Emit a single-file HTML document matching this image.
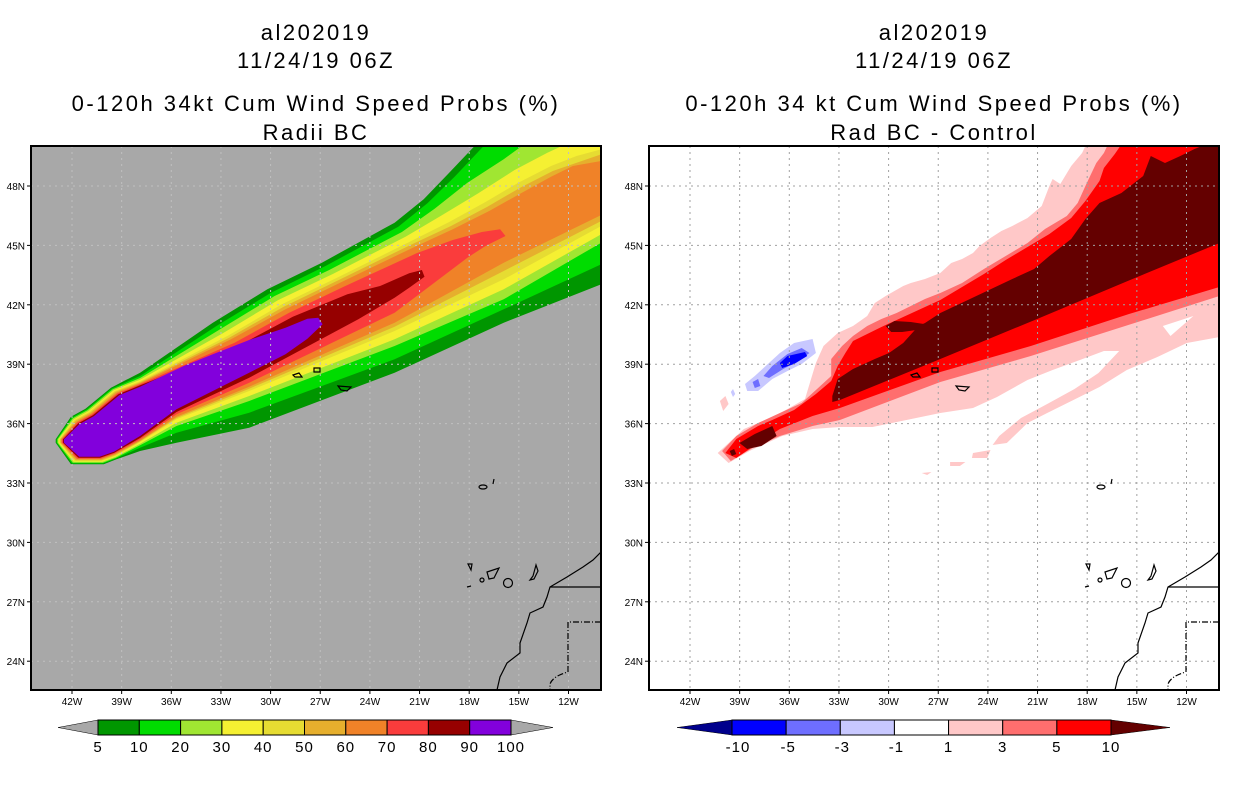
<!DOCTYPE html>
<html><head><meta charset="utf-8">
<style>
html,body{margin:0;padding:0;background:#fff;}
svg text{font-family:"Liberation Sans",sans-serif;}
</style></head>
<body>
<svg id="root" width="1236" height="800" viewBox="0 0 1236 800" xmlns="http://www.w3.org/2000/svg">
<rect width="1236" height="800" fill="#fff"/>
<g font-size="22" letter-spacing="2.5" text-anchor="middle" fill="#000">
<text x="316" y="40">al202019</text>
<text x="316" y="68">11/24/19 06Z</text>
<text x="316" y="111">0-120h 34kt Cum Wind Speed Probs (%)</text>
<text x="316" y="140">Radii BC</text>
</g>
<g font-size="22" letter-spacing="2.5" text-anchor="middle" fill="#000">
<text x="934" y="40">al202019</text>
<text x="934" y="68">11/24/19 06Z</text>
<text x="934" y="111">0-120h 34 kt Cum Wind Speed Probs (%)</text>
<text x="934" y="140">Rad BC - Control</text>
</g>
<g id="leftPanel" transform="translate(31,146)"></g>
<g id="rightPanel" transform="translate(649,146)"></g>
<g id="leftBar"></g>
<g id="rightBar"></g>
</svg>
<script>
// ---- map axes ----
const lonTicks = [42,39,36,33,30,27,24,21,18,15,12];
const latTicks = [48,45,42,39,36,33,30,27,24];
// ---- left colorbar data ----
const leftLevels = [5,10,20,30,40,50,60,70,80,90,100];
const leftColors = ["#009600","#00dc00","#a0e632","#f5f032","#e6dc32","#e6af2d","#f08228","#fa3c3c","#960000","#8200dc"];
// ---- right colorbar data ----
const rightLevels = ["-10","-5","-3","-1","1","3","5","10"];
const rightColors = ["#0000ff","#6e6eff","#c8c8ff","#ffffff","#ffc8c8","#ff6e6e","#ff0000"];

const NS="http://www.w3.org/2000/svg";
function mk(tag,attrs,parent){const e=document.createElementNS(NS,tag);for(const k in attrs)e.setAttribute(k,attrs[k]);parent.appendChild(e);return e;}
function lonX(w){return 41+(42-w)*16.55;}
function latY(l){return 40+(48-l)*19.8;}
const W=570,H=544;

const leftBands=[
{c:"#009600",top:[[300,680],[500,530],[650,430],[800,350],[1000,230],[1080,160],[1150,80],[1220,0],[1568,0]],bot:[[1568,415],[1300,530],[1000,680],[600,845],[400,890],[300,915]]},
{c:"#00dc00",top:[[300,690],[510,540],[660,440],[810,360],[1010,242],[1090,172],[1165,92],[1245,0],[1568,0]],bot:[[1568,355],[1300,490],[1000,640],[600,800],[400,860],[300,905]]},
{c:"#a0e632",top:[[300,696],[520,550],[670,450],[820,372],[1020,258],[1110,188],[1200,110],[1300,40],[1350,0],[1568,0]],bot:[[1568,290],[1300,460],[1000,600],[600,765],[400,840],[300,898]]},
{c:"#f5f032",top:[[300,701],[530,560],[680,462],[830,384],[1030,272],[1130,208],[1230,142],[1330,72],[1420,20],[1460,0],[1568,0]],bot:[[1568,265],[1300,430],[1000,580],[600,750],[400,830],[300,893]]},
{c:"#e6dc32",top:[[300,706],[540,570],[690,475],[840,396],[1040,288],[1150,228],[1250,168],[1340,110],[1430,60],[1500,30],[1568,10]],bot:[[1568,240],[1300,400],[1000,555],[600,735],[400,820],[300,888]]},
{c:"#e6af2d",top:[[300,709],[545,575],[695,482],[845,403],[1045,296],[1155,240],[1255,182],[1345,125],[1435,75],[1568,25]],bot:[[1568,225],[1300,375],[1000,542],[600,728],[400,816],[300,886]]},
{c:"#f08228",top:[[300,712],[550,580],[700,490],[850,410],[1050,305],[1160,250],[1260,195],[1350,140],[1430,92],[1490,60],[1568,45]],bot:[[1568,207],[1300,350],[1000,530],[600,722],[400,812],[300,884]]},
{c:"#fa3c3c",top:[[300,715],[560,590],[710,500],[860,422],[960,372],[1060,322],[1160,282],[1240,258],[1290,250],[1305,270]],bot:[[1250,300],[1200,335],[1000,500],[600,710],[400,805],[300,880]]},
{c:"#960000",top:[[300,718],[570,600],[720,512],[870,445],[960,420],[1040,382],[1075,372],[1082,392]],bot:[[1040,425],[1000,455],[900,520],[600,695],[400,798],[300,876]]},
{c:"#8200dc",top:[[300,722],[420,660],[500,625],[600,582],[700,545],[760,518],[790,515],[802,535]],bot:[[760,578],[700,625],[600,680],[500,735],[400,790],[300,870]]}
];
const rightShapes=[
{c:"#ffc8c8",p:[[63,307],[68,302],[77,293],[87,283],[100,277],[110,273],[127,263],[143,253],[153,217],[160,200],[173,187],[187,180],[200,170],[207,157],[217,150],[233,140],[240,137],[253,133],[267,127],[277,117],[287,113],[297,107],[303,100],[313,92],[323,85],[333,80],[347,72],[360,60],[367,40],[370,33],[377,38],[387,20],[397,7],[400,0],[523,0],[523,191],[493,197],[466,211],[438,224],[413,241],[389,254],[365,267],[347,277],[328,297],[315,299],[321,290],[341,272],[365,258],[390,243],[412,227],[431,205],[417,205],[395,214],[370,224],[347,234],[319,251],[297,262],[267,267],[236,274],[205,281],[175,281],[150,283],[122,290],[92,305],[73,317]]},
{c:"#ffffff",p:[[471,180],[499,170],[478,190]]},
{c:"#ffc8c8",p:[[297,307],[313,304],[310,312],[296,312]]},
{c:"#ffc8c8",p:[[276,316],[290,316],[285,320],[276,320]]},
{c:"#ffc8c8",p:[[250,327],[259,326],[255,329]]},
{c:"#ffc8c8",p:[[65,255],[70,250],[73,258],[68,265]]},
{c:"#ff6e6e",p:[[67,305],[80,290],[100,277],[120,267],[140,257],[157,240],[167,230],[167,213],[177,200],[187,190],[200,180],[213,173],[227,167],[240,160],[253,153],[267,147],[287,137],[307,123],[327,110],[347,97],[363,83],[383,70],[393,57],[400,40],[410,17],[417,7],[420,0],[523,0],[523,150],[350,210],[267,236],[175,274],[150,280],[120,290],[95,302],[75,315]]},
{c:"#ff0000",p:[[70,307],[80,293],[100,280],[113,274],[133,264],[153,248],[167,235],[173,220],[180,207],[187,195],[200,188],[213,181],[233,171],[253,161],[267,154],[287,141],[307,128],[327,114],[347,101],[367,88],[387,72],[400,55],[413,35],[417,22],[427,8],[432,0],[523,0],[523,141],[440,168],[350,200],[267,226],[175,262],[150,270],[120,283],[100,297],[80,312]]},
{c:"#640000",p:[[168,250],[173,233],[187,223],[207,213],[220,207],[233,197],[247,180],[253,177],[267,167],[300,150],[333,133],[353,123],[367,110],[387,93],[400,73],[413,57],[433,47],[453,30],[460,10],[473,17],[487,10],[500,3],[507,0],[523,0],[523,97],[441,134],[358,172],[267,213],[175,254],[168,256]]},
{c:"#640000",p:[[217,180],[225,175],[240,176],[252,178],[245,184],[232,186],[222,186]]},
{c:"#640000",p:[[83,297],[97,288],[113,280],[117,290],[103,300],[90,303]]},
{c:"#640000",p:[[74,305],[78,303],[80,308],[76,310]]},
{c:"#c8c8ff",p:[[88,238],[97,230],[107,220],[120,207],[133,197],[150,193],[153,207],[140,218],[127,225],[113,233],[100,245],[90,245]]},
{c:"#c8c8ff",p:[[75,246],[77,243],[79,248],[77,251]]},
{c:"#6e6eff",p:[[105,230],[113,220],[127,208],[140,202],[147,207],[137,215],[123,223],[110,232]]},
{c:"#6e6eff",p:[[95,236],[100,233],[102,240],[97,242]]},
{c:"#0000ff",p:[[120,217],[127,210],[143,206],[145,210],[133,218],[122,222]]}
];

function clip(g,id){const cp=mk("clipPath",{id:id},g);mk("rect",{x:0,y:0,width:W,height:H},cp);}

function drawLand(g){
  const land=mk("g",{fill:"none",stroke:"#000","stroke-width":1.2},g);
  
  
  mk("path",{d:"M570,406 L562,414 L552,421 L536,431 L519,441 L516,451 L512,461 L499,467 L496,477 L489,497 L489,507 L476,517 L469,531 L466,544"},land);
  mk("path",{d:"M519,441 L570,441"},land);
  mk("path",{d:"M570,476 L537,476 L537,526 Q522,530 519,538 L519,544","stroke-dasharray":"6,2,1,2"},land);
  mk("path",{d:"M437,418 L441,418 L440,424 Z M456,426 L468,422 L463,432 L458,433 Z M505,419 L502,430 L499,434 L503,433 L507,425 Z"},land);
  mk("circle",{cx:451,cy:434,r:2},land);
  mk("circle",{cx:477,cy:437,r:4.5},land);
  mk("ellipse",{cx:452,cy:341,rx:4,ry:2},land);
  mk("path",{d:"M436,441 L440,440 M463,333 L462,338"},land);
  mk("path",{d:"M262,229 L268,227 L271,231 L264,231 Z M283,222 L289,222 L289,226 L283,226 Z M307,240 L320,241 L316,245 L310,244 Z"},land);
}

function drawGrid(g,color){
  const grid=mk("g",{stroke:color,"stroke-width":1,"stroke-dasharray":"2,4"},g);
  
  
  lonTicks.forEach(w=>{mk("line",{x1:lonX(w),y1:0,x2:lonX(w),y2:H},grid);});
  latTicks.forEach(l=>{mk("line",{x1:0,y1:latY(l),x2:W,y2:latY(l)},grid);});
}

function drawAxes(g){
  const ax=mk("g",{"font-size":"10",fill:"#000"},g);
  
  
  const tk=mk("g",{stroke:"#000","stroke-width":1},g);
  
  
  latTicks.forEach(l=>{
    mk("line",{x1:-4,y1:latY(l),x2:0,y2:latY(l)},tk);
    const t=mk("text",{x:-6,y:latY(l)+4,"text-anchor":"end"},ax);t.textContent=l+"N";
    
    });
  lonTicks.forEach(w=>{
    mk("line",{x1:lonX(w),y1:H,x2:lonX(w),y2:H+4},tk);
    const t=mk("text",{x:lonX(w),y:H+15,"text-anchor":"middle"},ax);t.textContent=w+"W";
    
    });
  const fr=mk("rect",{x:0,y:0,width:W,height:H,fill:"none",stroke:"#000","stroke-width":2},g);
  
  
}

(function(){
  const g=document.getElementById("leftPanel");
  clip(g,"cl");
  const inner=mk("g",{"clip-path":"url(#cl)"},g);
  mk("rect",{x:0,y:0,width:W,height:H,fill:"#a8a8a8"},inner);
  leftBands.forEach((b,k)=>{
    const d=2.5*k;
    const pts=[[68+d,880],[110+d,812+d],[150+d,788+d],[220+d,725+d]].concat(b.top,b.bot,[[235-d*0.3,940-d],[200-d*0.5,955-d],[110+d,955-d],[68+d,890]]);
    const s=pts.map(p=>(p[0]/2.75).toFixed(1)+","+(p[1]/3).toFixed(1)).join(" ");
    const poly=mk("polygon",{points:s,fill:b.c},inner);
    
    
  });
  drawGrid(inner,"#c0c0c0");
  drawLand(inner);
  drawAxes(g);
})();

(function(){
  const g=document.getElementById("rightPanel");
  clip(g,"cr");
  const inner=mk("g",{"clip-path":"url(#cr)"},g);
  mk("rect",{x:0,y:0,width:W,height:H,fill:"#fff"},inner);
  rightShapes.forEach(s=>{
    const pts=s.p.map(p=>(p[0]*3/2.75).toFixed(1)+","+p[1]).join(" ");
    const poly=mk("polygon",{points:pts,fill:s.c},inner);
    
    
  });
  drawGrid(inner,"#a0a0a0");
  drawLand(inner);
  drawAxes(g);
})();

function bar(id,x0,x1,tipL,tipR,colors,levels,leftTri,rightTri,labelOff){
  const g=document.getElementById(id);
  const y0=720,y1=735,n=colors.length,w=(x1-x0)/n;
  const lt=mk("polygon",{points:`${x0},${y0} ${tipL},${(y0+y1)/2} ${x0},${y1}`,fill:leftTri,stroke:"#000","stroke-width":0.5},g);
  
  
  const rt=mk("polygon",{points:`${x1},${y0} ${tipR},${(y0+y1)/2} ${x1},${y1}`,fill:rightTri,stroke:"#000","stroke-width":0.5},g);
  
  
  colors.forEach((c,i)=>{
    const r=mk("rect",{x:x0+i*w,y:y0,width:w,height:y1-y0,fill:c,stroke:"#000","stroke-width":1},g);
    
    
  });
  levels.forEach((l,i)=>{
    const t=mk("text",{x:x0+i*w+(labelOff[i]||0),y:752,"text-anchor":"middle","font-size":"15","letter-spacing":"1",fill:"#000"},g);
    t.textContent=l;
    
    
  });
}
bar("leftBar",98,511,58,553,leftColors,leftLevels,"#a8a8a8","#a8a8a8",{});
bar("rightBar",732,1111,677,1170,rightColors,rightLevels,"#00008c","#640000",{0:6,1:2,2:2,3:2});
</script>
</body></html>
